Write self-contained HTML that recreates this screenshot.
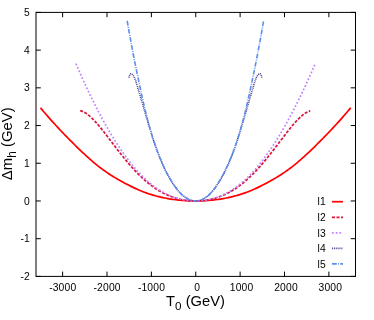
<!DOCTYPE html>
<html><head><meta charset="utf-8"><style>
html,body{margin:0;padding:0;background:#fff;}
svg{display:block;will-change:transform;font-family:"Liberation Sans",sans-serif;}
</style></head><body>
<svg width="374" height="320" viewBox="0 0 374 320">
<rect width="374" height="320" fill="#fff"/>
<g><path d="M40.44,107.74 L41.99,109.60 L43.54,111.43 L45.10,113.25 L46.65,115.05 L48.20,116.83 L49.76,118.59 L51.31,120.34 L52.86,122.06 L54.42,123.77 L55.97,125.46 L57.52,127.15 L59.07,128.81 L60.63,130.47 L62.18,132.11 L63.73,133.73 L65.29,135.34 L66.84,136.93 L68.39,138.51 L69.95,140.08 L71.50,141.66 L73.05,143.22 L74.61,144.77 L76.16,146.32 L77.71,147.84 L79.27,149.35 L80.82,150.83 L82.37,152.30 L83.92,153.74 L85.48,155.15 L87.03,156.56 L88.58,157.95 L90.14,159.33 L91.69,160.69 L93.24,162.03 L94.80,163.34 L96.35,164.62 L97.90,165.86 L99.46,167.07 L101.01,168.24 L102.56,169.39 L104.12,170.50 L105.67,171.59 L107.22,172.65 L108.78,173.69 L110.33,174.71 L111.88,175.70 L113.43,176.67 L114.99,177.62 L116.54,178.55 L118.09,179.47 L119.65,180.36 L121.20,181.24 L122.75,182.09 L124.31,182.93 L125.86,183.75 L127.41,184.56 L128.97,185.35 L130.52,186.12 L132.07,186.88 L133.62,187.63 L135.18,188.36 L136.73,189.07 L138.28,189.75 L139.84,190.42 L141.39,191.06 L142.94,191.68 L144.50,192.28 L146.05,192.85 L147.60,193.40 L149.16,193.93 L150.71,194.43 L152.26,194.90 L153.82,195.36 L155.37,195.79 L156.92,196.20 L158.48,196.58 L160.03,196.95 L161.58,197.30 L163.13,197.64 L164.69,197.96 L166.24,198.26 L167.79,198.54 L169.35,198.81 L170.90,199.06 L172.45,199.30 L174.01,199.52 L175.56,199.72 L177.11,199.91 L178.67,200.08 L180.22,200.23 L181.77,200.38 L183.33,200.50 L184.88,200.61 L186.43,200.71 L187.98,200.79 L189.54,200.85 L191.09,200.91 L192.64,200.94 L194.20,200.96 L195.75,200.97 L197.28,200.96 L198.82,200.94 L200.35,200.91 L201.88,200.85 L203.42,200.79 L204.95,200.71 L206.49,200.61 L208.02,200.50 L209.55,200.38 L211.09,200.23 L212.62,200.08 L214.15,199.91 L215.69,199.72 L217.22,199.52 L218.76,199.30 L220.29,199.06 L221.82,198.81 L223.37,198.54 L224.93,198.26 L226.48,197.96 L228.03,197.64 L229.59,197.30 L231.14,196.95 L232.69,196.58 L234.25,196.20 L235.80,195.79 L237.35,195.36 L238.90,194.90 L240.46,194.43 L242.01,193.93 L243.56,193.40 L245.12,192.85 L246.67,192.28 L248.22,191.68 L249.78,191.06 L251.33,190.42 L252.88,189.75 L254.44,189.07 L255.99,188.36 L257.54,187.63 L259.10,186.88 L260.65,186.12 L262.20,185.35 L263.75,184.56 L265.31,183.75 L266.86,182.93 L268.41,182.09 L269.97,181.24 L271.52,180.36 L273.07,179.47 L274.63,178.55 L276.18,177.62 L277.73,176.67 L279.29,175.70 L280.84,174.71 L282.39,173.69 L283.95,172.65 L285.50,171.59 L287.05,170.50 L288.60,169.39 L290.16,168.24 L291.71,167.07 L293.26,165.86 L294.82,164.62 L296.37,163.34 L297.92,162.03 L299.48,160.69 L301.03,159.33 L302.58,157.95 L304.14,156.56 L305.69,155.15 L307.24,153.74 L308.80,152.30 L310.35,150.83 L311.90,149.35 L313.45,147.84 L315.01,146.32 L316.56,144.77 L318.11,143.22 L319.67,141.66 L321.22,140.08 L322.77,138.51 L324.33,136.93 L325.88,135.34 L327.43,133.73 L328.99,132.11 L330.54,130.47 L332.09,128.81 L333.65,127.15 L335.20,125.46 L336.75,123.77 L338.30,122.06 L339.86,120.34 L341.41,118.59 L342.96,116.83 L344.52,115.05 L346.07,113.25 L347.62,111.43 L349.18,109.60 L350.73,107.74" stroke="#ff0000" stroke-width="1.7" fill="none"/><path d="M80.20,110.70 L80.93,110.88 L81.66,111.10 L82.38,111.37 L83.11,111.68 L83.84,112.03 L84.56,112.41 L85.29,112.84 L86.02,113.30 L86.74,113.79 L87.47,114.32 L88.20,114.87 L88.92,115.46 L89.65,116.07 L90.38,116.71 L91.10,117.37 L91.83,118.06 L92.56,118.77 L93.28,119.50 L94.01,120.26 L94.74,121.03 L95.46,121.81 L96.19,122.62 L96.92,123.44 L97.64,124.28 L98.37,125.13 L99.10,125.99 L99.82,126.86 L100.55,127.75 L101.28,128.64 L102.00,129.55 L102.73,130.46 L103.46,131.38 L104.18,132.30 L104.91,133.24 L105.64,134.17 L106.36,135.12 L107.09,136.06 L107.82,137.01 L108.54,137.97 L109.27,138.92 L110.00,139.88 L110.72,140.84 L111.45,141.80 L112.18,142.75 L112.90,143.71 L113.63,144.67 L114.36,145.62 L115.08,146.58 L115.81,147.53 L116.54,148.48 L117.26,149.42 L117.99,150.36 L118.72,151.30 L119.44,152.23 L120.17,153.16 L120.90,154.08 L121.62,155.00 L122.35,155.91 L123.08,156.82 L123.80,157.72 L124.53,158.62 L125.26,159.50 L125.99,160.38 L126.71,161.26 L127.44,162.12 L128.17,162.98 L128.89,163.83 L129.62,164.68 L130.35,165.51 L131.07,166.34 L131.80,167.16 L132.53,167.97 L133.25,168.77 L133.98,169.56 L134.71,170.34 L135.43,171.12 L136.16,171.88 L136.89,172.64 L137.61,173.38 L138.34,174.12 L139.07,174.84 L139.79,175.56 L140.52,176.26 L141.25,176.96 L141.97,177.64 L142.70,178.32 L143.43,178.98 L144.15,179.64 L144.88,180.28 L145.61,180.91 L146.33,181.54 L147.06,182.15 L147.79,182.75 L148.51,183.34 L149.24,183.92 L149.97,184.49 L150.69,185.05 L151.42,185.60 L152.15,186.14 L152.87,186.66 L153.60,187.18 L154.33,187.69 L155.05,188.18 L155.78,188.67 L156.51,189.14 L157.23,189.61 L157.96,190.06 L158.69,190.50 L159.41,190.94 L160.14,191.36 L160.87,191.78 L161.59,192.18 L162.32,192.57 L163.05,192.95 L163.77,193.33 L164.50,193.69 L165.23,194.05 L165.95,194.39 L166.68,194.72 L167.41,195.05 L168.13,195.36 L168.86,195.67 L169.59,195.97 L170.31,196.25 L171.04,196.53 L171.77,196.80 L172.50,197.06 L173.22,197.31 L173.95,197.55 L174.68,197.79 L175.40,198.01 L176.13,198.23 L176.86,198.43 L177.58,198.63 L178.31,198.82 L179.04,199.01 L179.76,199.18 L180.49,199.35 L181.22,199.50 L181.94,199.65 L182.67,199.79 L183.40,199.92 L184.12,200.04 L184.85,200.16 L185.58,200.26 L186.30,200.36 L187.03,200.45 L187.76,200.53 L188.48,200.61 L189.21,200.68 L189.94,200.74 L190.66,200.80 L191.39,200.84 L192.12,200.88 L192.84,200.91 L193.57,200.94 L194.30,200.96 L195.02,200.97 L195.75,200.97 L196.47,200.97 L197.19,200.96 L197.90,200.94 L198.62,200.91 L199.34,200.88 L200.06,200.84 L200.77,200.80 L201.49,200.74 L202.21,200.68 L202.93,200.61 L203.64,200.53 L204.36,200.45 L205.08,200.36 L205.80,200.26 L206.51,200.16 L207.23,200.04 L207.95,199.92 L208.67,199.79 L209.39,199.65 L210.10,199.50 L210.82,199.35 L211.54,199.18 L212.26,199.01 L212.97,198.82 L213.69,198.63 L214.41,198.43 L215.13,198.23 L215.84,198.01 L216.56,197.79 L217.28,197.55 L218.00,197.31 L218.71,197.06 L219.43,196.80 L220.15,196.53 L220.87,196.25 L221.58,195.97 L222.31,195.67 L223.03,195.36 L223.76,195.05 L224.49,194.72 L225.21,194.39 L225.94,194.05 L226.67,193.69 L227.39,193.33 L228.12,192.95 L228.85,192.57 L229.57,192.18 L230.30,191.78 L231.03,191.36 L231.75,190.94 L232.48,190.50 L233.21,190.06 L233.93,189.61 L234.66,189.14 L235.39,188.67 L236.11,188.18 L236.84,187.69 L237.57,187.18 L238.29,186.66 L239.02,186.14 L239.75,185.60 L240.47,185.05 L241.20,184.49 L241.93,183.92 L242.65,183.34 L243.38,182.75 L244.11,182.15 L244.83,181.54 L245.56,180.91 L246.29,180.28 L247.01,179.64 L247.74,178.98 L248.47,178.32 L249.19,177.64 L249.92,176.96 L250.65,176.26 L251.37,175.56 L252.10,174.84 L252.83,174.12 L253.55,173.38 L254.28,172.64 L255.01,171.88 L255.73,171.12 L256.46,170.34 L257.19,169.56 L257.91,168.77 L258.64,167.97 L259.37,167.16 L260.10,166.34 L260.82,165.51 L261.55,164.68 L262.28,163.83 L263.00,162.98 L263.73,162.12 L264.46,161.26 L265.18,160.38 L265.91,159.50 L266.64,158.62 L267.36,157.72 L268.09,156.82 L268.82,155.91 L269.54,155.00 L270.27,154.08 L271.00,153.16 L271.72,152.23 L272.45,151.30 L273.18,150.36 L273.90,149.42 L274.63,148.48 L275.36,147.53 L276.08,146.58 L276.81,145.62 L277.54,144.67 L278.26,143.71 L278.99,142.75 L279.72,141.80 L280.44,140.84 L281.17,139.88 L281.90,138.92 L282.62,137.97 L283.35,137.01 L284.08,136.06 L284.80,135.12 L285.53,134.17 L286.26,133.24 L286.98,132.30 L287.71,131.38 L288.44,130.46 L289.16,129.55 L289.89,128.64 L290.62,127.75 L291.34,126.86 L292.07,125.99 L292.80,125.13 L293.52,124.28 L294.25,123.44 L294.98,122.62 L295.70,121.81 L296.43,121.03 L297.16,120.26 L297.88,119.50 L298.61,118.77 L299.34,118.06 L300.06,117.37 L300.79,116.71 L301.52,116.07 L302.24,115.46 L302.97,114.87 L303.70,114.32 L304.42,113.79 L305.15,113.30 L305.88,112.84 L306.60,112.41 L307.33,112.03 L308.06,111.68 L308.79,111.37 L309.51,111.10 L310.24,110.88" stroke="#dc143c" stroke-width="1.7" stroke-dasharray="3 1.5" fill="none"/><path d="M75.94,63.67 L77.14,66.46 L78.33,69.22 L79.53,71.95 L80.73,74.65 L81.93,77.33 L83.13,79.99 L84.32,82.62 L85.52,85.22 L86.72,87.79 L87.92,90.34 L89.12,92.86 L90.31,95.36 L91.51,97.82 L92.71,100.27 L93.91,102.68 L95.11,105.07 L96.31,107.43 L97.50,109.76 L98.70,112.07 L99.90,114.35 L101.10,116.60 L102.30,118.82 L103.49,121.02 L104.69,123.19 L105.89,125.33 L107.09,127.44 L108.29,129.52 L109.48,131.58 L110.68,133.60 L111.88,135.60 L113.08,137.57 L114.28,139.51 L115.48,141.42 L116.67,143.30 L117.87,145.15 L119.07,146.97 L120.27,148.76 L121.47,150.52 L122.66,152.25 L123.86,153.95 L125.06,155.62 L126.26,157.26 L127.46,158.86 L128.66,160.44 L129.85,161.98 L131.05,163.49 L132.25,164.98 L133.45,166.43 L134.65,167.84 L135.84,169.23 L137.04,170.58 L138.24,171.91 L139.44,173.20 L140.64,174.46 L141.83,175.68 L143.03,176.88 L144.23,178.04 L145.43,179.17 L146.63,180.27 L147.82,181.34 L149.02,182.38 L150.22,183.39 L151.42,184.36 L152.62,185.31 L153.82,186.22 L155.01,187.10 L156.21,187.95 L157.41,188.78 L158.61,189.57 L159.81,190.33 L161.00,191.07 L162.20,191.77 L163.40,192.45 L164.60,193.09 L165.80,193.71 L167.00,194.31 L168.19,194.87 L169.39,195.41 L170.59,195.92 L171.79,196.40 L172.99,196.86 L174.18,197.29 L175.38,197.70 L176.58,198.08 L177.78,198.44 L178.98,198.77 L180.17,199.08 L181.37,199.36 L182.57,199.62 L183.77,199.86 L184.97,200.07 L186.17,200.26 L187.36,200.43 L188.56,200.57 L189.76,200.69 L190.96,200.79 L192.16,200.87 L193.35,200.93 L194.55,200.96 L195.75,200.97 L196.93,200.96 L198.12,200.93 L199.30,200.87 L200.48,200.79 L201.67,200.69 L202.85,200.57 L204.03,200.43 L205.22,200.26 L206.40,200.07 L207.58,199.86 L208.76,199.62 L209.95,199.36 L211.13,199.08 L212.31,198.77 L213.50,198.44 L214.68,198.08 L215.86,197.70 L217.05,197.29 L218.23,196.86 L219.41,196.40 L220.60,195.92 L221.78,195.41 L222.97,194.87 L224.17,194.31 L225.37,193.71 L226.57,193.09 L227.77,192.45 L228.96,191.77 L230.16,191.07 L231.36,190.33 L232.56,189.57 L233.76,188.78 L234.96,187.95 L236.15,187.10 L237.35,186.22 L238.55,185.31 L239.75,184.36 L240.95,183.39 L242.14,182.38 L243.34,181.34 L244.54,180.27 L245.74,179.17 L246.94,178.04 L248.13,176.88 L249.33,175.68 L250.53,174.46 L251.73,173.20 L252.93,171.91 L254.13,170.58 L255.32,169.23 L256.52,167.84 L257.72,166.43 L258.92,164.98 L260.12,163.49 L261.31,161.98 L262.51,160.44 L263.71,158.86 L264.91,157.26 L266.11,155.62 L267.30,153.95 L268.50,152.25 L269.70,150.52 L270.90,148.76 L272.10,146.97 L273.30,145.15 L274.49,143.30 L275.69,141.42 L276.89,139.51 L278.09,137.57 L279.29,135.60 L280.48,133.60 L281.68,131.58 L282.88,129.52 L284.08,127.44 L285.28,125.33 L286.47,123.19 L287.67,121.02 L288.87,118.82 L290.07,116.60 L291.27,114.35 L292.47,112.07 L293.66,109.76 L294.86,107.43 L296.06,105.07 L297.26,102.68 L298.46,100.27 L299.65,97.82 L300.85,95.36 L302.05,92.86 L303.25,90.34 L304.45,87.79 L305.64,85.22 L306.84,82.62 L308.04,79.99 L309.24,77.33 L310.44,74.65 L311.64,71.95 L312.83,69.22 L314.03,66.46 L315.23,63.67" stroke="#c080ff" stroke-width="1.7" stroke-dasharray="1.7 2.03" fill="none"/><path d="M129.02,77.57 L129.10,76.71 L129.35,75.77 L129.75,74.88 L130.24,74.16 L130.80,73.73 L131.39,73.71 L131.97,74.07 L132.52,74.65 L133.04,75.30 L133.50,75.98 L133.93,76.68 L134.31,77.40 L134.67,78.14 L134.99,78.91 L135.30,79.68 L135.58,80.47 L135.84,81.27 L136.09,82.07 L136.34,82.88 L136.58,83.68 L136.82,84.49 L137.06,85.30 L137.30,86.10 L137.54,86.91 L137.78,87.71 L138.02,88.52 L138.25,89.32 L138.49,90.12 L138.73,90.92 L138.96,91.72 L139.20,92.52 L139.43,93.32 L139.66,94.12 L139.90,94.92 L140.13,95.72 L140.36,96.52 L140.60,97.31 L140.83,98.11 L141.06,98.91 L141.30,99.70 L141.53,100.50 L141.76,101.29 L141.99,102.09 L142.22,102.88 L142.46,103.68 L142.69,104.47 L142.92,105.27 L143.15,106.06 L143.39,106.86 L143.62,107.65 L143.85,108.44 L144.09,109.24 L144.32,110.03 L144.56,110.83 L144.79,111.62 L145.03,112.41 L145.26,113.21 L145.50,114.00 L145.74,114.79 L145.97,115.59 L146.21,116.38 L146.45,117.18 L146.69,117.97 L146.93,118.77 L147.17,119.56 L147.41,120.36 L147.66,121.15 L147.90,121.95 L148.14,122.74 L148.39,123.54 L148.64,124.34 L148.88,125.14 L149.13,125.93 L149.38,126.73 L149.63,127.53 L149.89,128.33 L150.14,129.13 L150.39,129.93 L150.65,130.73 L151.11,132.56 L151.64,134.35 L152.18,136.10 L152.72,137.81 L153.26,139.49 L153.80,141.14 L154.33,142.76 L154.87,144.35 L155.41,145.90 L155.95,147.43 L156.48,148.94 L157.02,150.42 L157.56,151.87 L158.10,153.30 L158.64,154.70 L159.17,156.07 L159.71,157.42 L160.25,158.73 L160.79,160.02 L161.33,161.29 L161.86,162.53 L162.40,163.76 L162.94,164.96 L163.48,166.15 L164.02,167.31 L164.55,168.45 L165.09,169.57 L165.63,170.67 L166.17,171.75 L166.70,172.81 L167.24,173.85 L167.78,174.86 L168.32,175.86 L168.86,176.84 L169.39,177.80 L169.93,178.73 L170.47,179.65 L171.01,180.55 L171.55,181.43 L172.08,182.29 L172.62,183.13 L173.16,183.95 L173.70,184.75 L174.23,185.53 L174.77,186.30 L175.31,187.04 L175.85,187.76 L176.39,188.47 L176.92,189.15 L177.46,189.82 L178.00,190.47 L178.54,191.09 L179.08,191.70 L179.61,192.29 L180.15,192.86 L180.69,193.41 L181.23,193.94 L181.77,194.45 L182.30,194.94 L182.84,195.42 L183.38,195.87 L183.92,196.30 L184.45,196.72 L184.99,197.11 L185.53,197.49 L186.07,197.85 L186.61,198.18 L187.14,198.50 L187.68,198.80 L188.22,199.08 L188.76,199.34 L189.30,199.58 L189.83,199.80 L190.37,200.01 L190.91,200.19 L191.45,200.35 L191.98,200.50 L192.52,200.62 L193.06,200.73 L193.60,200.82 L194.14,200.88 L194.67,200.93 L195.21,200.96 L195.75,200.97 L196.27,200.96 L196.80,200.93 L197.32,200.88 L197.84,200.82 L198.37,200.73 L198.89,200.62 L199.42,200.50 L199.94,200.35 L200.46,200.19 L200.99,200.01 L201.51,199.80 L202.03,199.58 L202.56,199.34 L203.08,199.08 L203.61,198.80 L204.13,198.50 L204.65,198.18 L205.18,197.85 L205.70,197.49 L206.22,197.11 L206.75,196.72 L207.27,196.30 L207.80,195.87 L208.32,195.42 L208.84,194.94 L209.37,194.45 L209.89,193.94 L210.41,193.41 L210.94,192.86 L211.46,192.29 L211.99,191.70 L212.51,191.09 L213.03,190.47 L213.56,189.82 L214.08,189.15 L214.60,188.47 L215.13,187.76 L215.65,187.04 L216.17,186.30 L216.70,185.53 L217.22,184.75 L217.75,183.95 L218.27,183.13 L218.79,182.29 L219.32,181.43 L219.84,180.55 L220.36,179.65 L220.89,178.73 L221.41,177.80 L221.94,176.84 L222.48,175.86 L223.02,174.86 L223.56,173.85 L224.09,172.81 L224.63,171.75 L225.17,170.67 L225.71,169.57 L226.25,168.45 L226.78,167.31 L227.32,166.15 L227.86,164.96 L228.40,163.76 L228.94,162.53 L229.47,161.29 L230.01,160.02 L230.55,158.73 L231.09,157.42 L231.62,156.07 L232.16,154.70 L232.70,153.30 L233.24,151.87 L233.78,150.42 L234.31,148.94 L234.85,147.43 L235.39,145.90 L235.93,144.35 L236.47,142.76 L237.00,141.14 L237.54,139.49 L238.08,137.81 L238.62,136.10 L239.15,134.35 L239.69,132.56 L240.15,130.73 L240.41,129.93 L240.66,129.13 L240.91,128.33 L241.17,127.53 L241.42,126.73 L241.67,125.93 L241.91,125.14 L242.16,124.34 L242.41,123.54 L242.65,122.74 L242.90,121.95 L243.14,121.15 L243.39,120.36 L243.63,119.56 L243.87,118.77 L244.11,117.97 L244.35,117.18 L244.59,116.38 L244.83,115.59 L245.06,114.79 L245.30,114.00 L245.54,113.21 L245.77,112.41 L246.01,111.62 L246.24,110.83 L246.48,110.03 L246.71,109.24 L246.94,108.44 L247.18,107.65 L247.41,106.86 L247.64,106.06 L247.88,105.27 L248.11,104.47 L248.34,103.68 L248.57,102.88 L248.81,102.09 L249.04,101.29 L249.27,100.50 L249.50,99.70 L249.74,98.91 L249.97,98.11 L250.20,97.31 L250.43,96.52 L250.67,95.72 L250.90,94.92 L251.13,94.12 L251.37,93.32 L251.60,92.52 L251.84,91.72 L252.07,90.92 L252.31,90.12 L252.55,89.32 L252.78,88.52 L253.02,87.71 L253.26,86.91 L253.50,86.10 L253.74,85.30 L253.98,84.49 L254.22,83.68 L254.46,82.88 L254.70,82.07 L254.96,81.27 L255.22,80.47 L255.50,79.68 L255.80,78.91 L256.13,78.14 L256.49,77.40 L256.87,76.68 L257.30,75.98 L257.76,75.30 L258.28,74.65 L258.83,74.07 L259.41,73.71 L260.00,73.73 L260.56,74.16 L261.05,74.88 L261.45,75.77 L261.70,76.71 L261.78,77.57" stroke="#483d8b" stroke-width="1.6" stroke-dasharray="0.95 0.93" fill="none"/><path d="M127.19,20.92 L127.88,24.81 L128.56,28.68 L129.25,32.52 L129.93,36.33 L130.62,40.10 L131.30,43.83 L131.99,47.52 L132.68,51.15 L133.36,54.73 L134.05,58.25 L134.73,61.71 L135.42,65.12 L136.10,68.49 L136.79,71.83 L137.47,75.14 L138.16,78.43 L138.85,81.70 L139.53,84.95 L140.22,88.18 L140.90,91.37 L141.59,94.51 L142.27,97.59 L142.96,100.62 L143.64,103.61 L144.33,106.56 L145.02,109.45 L145.70,112.28 L146.39,115.05 L147.07,117.76 L147.76,120.42 L148.44,123.03 L149.13,125.59 L149.82,128.08 L150.50,130.50 L151.19,132.83 L151.87,135.10 L152.56,137.30 L153.24,139.45 L153.93,141.55 L154.61,143.59 L155.30,145.59 L155.99,147.54 L156.67,149.45 L157.36,151.32 L158.04,153.15 L158.73,154.94 L159.41,156.67 L160.10,158.37 L160.78,160.01 L161.47,161.63 L162.16,163.20 L162.84,164.75 L163.53,166.26 L164.21,167.73 L164.90,169.17 L165.58,170.58 L166.27,171.95 L166.96,173.30 L167.64,174.60 L168.33,175.88 L169.01,177.12 L169.70,178.33 L170.38,179.50 L171.07,180.65 L171.75,181.76 L172.44,182.85 L173.13,183.90 L173.81,184.92 L174.50,185.91 L175.18,186.86 L175.87,187.79 L176.55,188.68 L177.24,189.55 L177.92,190.38 L178.61,191.18 L179.30,191.95 L179.98,192.68 L180.67,193.39 L181.35,194.06 L182.04,194.70 L182.72,195.32 L183.41,195.90 L184.09,196.44 L184.78,196.96 L185.47,197.45 L186.15,197.90 L186.84,198.32 L187.52,198.72 L188.21,199.08 L188.89,199.40 L189.58,199.70 L190.27,199.97 L190.95,200.20 L191.64,200.41 L192.32,200.58 L193.01,200.72 L193.69,200.83 L194.38,200.91 L195.06,200.96 L195.75,200.97 L196.42,200.96 L197.09,200.91 L197.75,200.83 L198.42,200.72 L199.09,200.58 L199.76,200.41 L200.42,200.20 L201.09,199.97 L201.76,199.70 L202.43,199.40 L203.09,199.08 L203.76,198.72 L204.43,198.32 L205.10,197.90 L205.76,197.45 L206.43,196.96 L207.10,196.44 L207.77,195.90 L208.43,195.32 L209.10,194.70 L209.77,194.06 L210.44,193.39 L211.10,192.68 L211.77,191.95 L212.44,191.18 L213.11,190.38 L213.77,189.55 L214.44,188.68 L215.11,187.79 L215.78,186.86 L216.44,185.91 L217.11,184.92 L217.78,183.90 L218.45,182.85 L219.11,181.76 L219.78,180.65 L220.45,179.50 L221.12,178.33 L221.79,177.12 L222.47,175.88 L223.16,174.60 L223.84,173.30 L224.53,171.95 L225.21,170.58 L225.90,169.17 L226.59,167.73 L227.27,166.26 L227.96,164.75 L228.64,163.20 L229.33,161.63 L230.01,160.01 L230.70,158.37 L231.39,156.67 L232.07,154.94 L232.76,153.15 L233.44,151.32 L234.13,149.45 L234.81,147.54 L235.50,145.59 L236.18,143.59 L236.87,141.55 L237.56,139.45 L238.24,137.30 L238.93,135.10 L239.61,132.83 L240.30,130.50 L240.98,128.08 L241.67,125.59 L242.35,123.03 L243.04,120.42 L243.73,117.76 L244.41,115.05 L245.10,112.28 L245.78,109.45 L246.47,106.56 L247.15,103.61 L247.84,100.62 L248.53,97.59 L249.21,94.51 L249.90,91.37 L250.58,88.18 L251.27,84.95 L251.95,81.70 L252.64,78.43 L253.32,75.14 L254.01,71.83 L254.70,68.49 L255.38,65.12 L256.07,61.71 L256.75,58.25 L257.44,54.73 L258.12,51.15 L258.81,47.52 L259.49,43.83 L260.18,40.10 L260.87,36.33 L261.55,32.52 L262.24,28.68 L262.92,24.81 L263.61,20.92" stroke="#5b8fee" stroke-width="1.6" stroke-dasharray="4.8 1.3 0.9 1.2" fill="none"/></g>
<path d="M62.62,276.4 v-4.8 M62.62,12.4 v4.8 M107.00,276.4 v-4.8 M107.00,12.4 v4.8 M151.38,276.4 v-4.8 M151.38,12.4 v4.8 M195.75,276.4 v-4.8 M195.75,12.4 v4.8 M240.12,276.4 v-4.8 M240.12,12.4 v4.8 M284.50,276.4 v-4.8 M284.50,12.4 v4.8 M328.88,276.4 v-4.8 M328.88,12.4 v4.8 M36.0,276.40 h4.8 M355.5,276.40 h-4.8 M36.0,238.69 h4.8 M355.5,238.69 h-4.8 M36.0,200.97 h4.8 M355.5,200.97 h-4.8 M36.0,163.26 h4.8 M355.5,163.26 h-4.8 M36.0,125.54 h4.8 M355.5,125.54 h-4.8 M36.0,87.83 h4.8 M355.5,87.83 h-4.8 M36.0,50.11 h4.8 M355.5,50.11 h-4.8 M36.0,12.40 h4.8 M355.5,12.40 h-4.8" stroke="#000" stroke-width="1" fill="none"/>
<rect x="36.0" y="12.4" width="319.5" height="264.0" fill="none" stroke="#000" stroke-width="1"/>
<g font-size="10.3" fill="#000"><text x="62.73" y="291" text-anchor="middle" letter-spacing="0.17">-3000</text><text x="107.10" y="291" text-anchor="middle" letter-spacing="0.17">-2000</text><text x="151.47" y="291" text-anchor="middle" letter-spacing="0.17">-1000</text><text x="197.25" y="291" text-anchor="middle" letter-spacing="0.17">0</text><text x="241.62" y="291" text-anchor="middle" letter-spacing="0.17">1000</text><text x="286.00" y="291" text-anchor="middle" letter-spacing="0.17">2000</text><text x="330.38" y="291" text-anchor="middle" letter-spacing="0.17">3000</text><text x="29.7" y="280.00" text-anchor="end">-2</text><text x="29.7" y="242.29" text-anchor="end">-1</text><text x="29.7" y="204.57" text-anchor="end">0</text><text x="29.7" y="166.86" text-anchor="end">1</text><text x="29.7" y="129.14" text-anchor="end">2</text><text x="29.7" y="91.43" text-anchor="end">3</text><text x="29.7" y="53.71" text-anchor="end">4</text><text x="29.7" y="16.00" text-anchor="end">5</text><text x="317.6" y="205.3">l1</text><path d="M332,201.7 H343" stroke="#ff0000" stroke-width="1.7" fill="none"/><text x="317.6" y="220.8">l2</text><path d="M332,217.3 H343" stroke="#dc143c" stroke-width="1.7" stroke-dasharray="3 1.5" fill="none"/><text x="317.6" y="237.0">l3</text><path d="M332,232.8 H343" stroke="#c080ff" stroke-width="1.7" stroke-dasharray="1.7 2.03" fill="none"/><text x="317.6" y="252.3">l4</text><path d="M332,248.4 H343" stroke="#483d8b" stroke-width="1.6" stroke-dasharray="0.95 0.93" fill="none"/><text x="317.6" y="268.1">l5</text><path d="M332,263.9 H343" stroke="#5b8fee" stroke-width="1.6" stroke-dasharray="4.8 1.3 0.9 1.2" fill="none"/></g>
<g font-size="14.7" fill="#000">
<text x="166.1" y="306.2">T<tspan font-size="11.7" dy="3.9">0</tspan><tspan dy="-3.9"> (GeV)</tspan></text>
<text transform="translate(12.4,180.2) rotate(-90)" font-size="14.9">Δm<tspan font-size="11.9" dy="3.5">h</tspan><tspan dy="-3.5"> (GeV)</tspan></text>
</g>
</svg>
</body></html>
